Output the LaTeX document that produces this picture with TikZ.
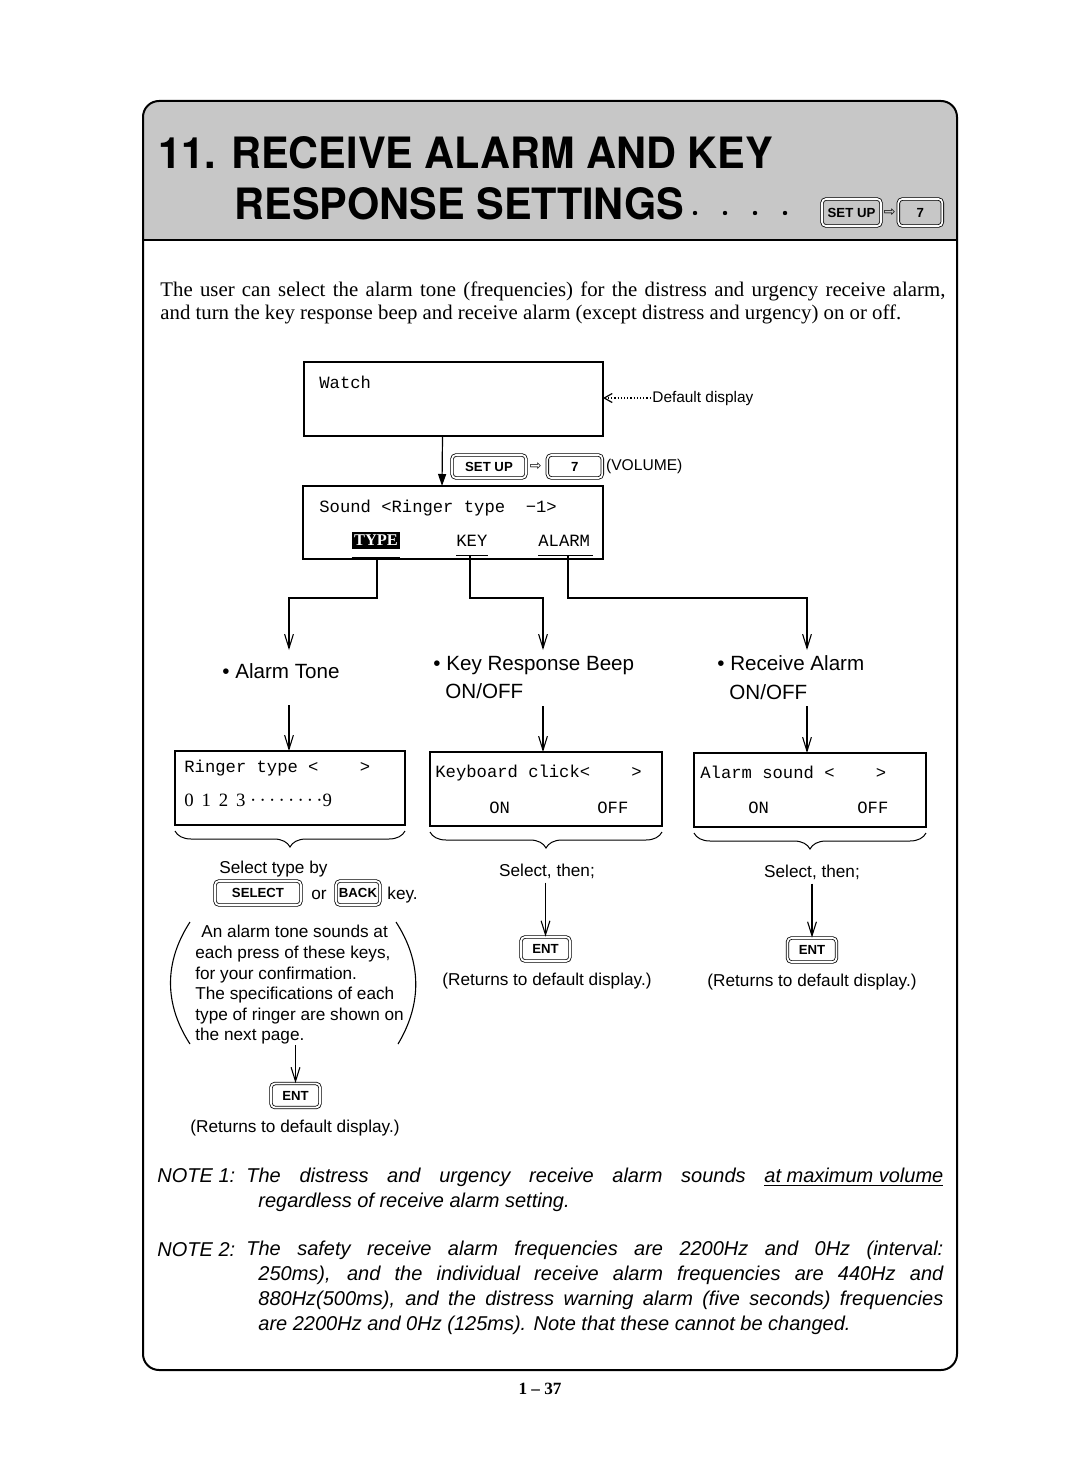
\documentclass[tikz,border=0pt]{standalone}
\usepackage{fontspec}
\usepackage{graphicx}
\setmainfont{Liberation Serif}
\setsansfont{Liberation Sans}
\setmonofont{Liberation Mono}
\newfontfamily\headfont{TeX Gyre Heros}
\newfontfamily\symfont{DejaVu Sans}
\usetikzlibrary{arrows.meta,decorations.pathreplacing,positioning}

\tikzset{
  screen/.style={draw, line width=0.7pt, inner sep=0pt, outer sep=0pt},
  keycap/.style={draw, double, double distance=0.9pt, line width=0.4pt,
    rounded corners=2pt, fill=white, inner sep=0pt,
    font=\sffamily\bfseries\fontsize{6.6}{7}\selectfont},
  mono/.style={font=\ttfamily\fontsize{8.6}{10}\selectfont, inner sep=0pt, anchor=base west},
  heading/.style={font=\sffamily\fontsize{10.3}{12}\selectfont, inner sep=0pt, anchor=base west},
  hint/.style={font=\sffamily\fontsize{8.6}{10.3}\selectfont, inner sep=2pt, anchor=base},
  notetext/.style={anchor=north west, inner sep=0pt, text width=342.5pt, align=justify,
    font=\sffamily\itshape\fontsize{10}{12.4}\selectfont},
  flow/.style={line width=0.55pt, -{Straight Barb[length=7pt,width=4.4pt,line width=0.55pt]}},
  wire/.style={line width=0.55pt},
  curly/.style={line width=0.5pt, decorate, decoration={brace, mirror, amplitude=8pt}},
}
\newcommand{\ringdots}{·\kern1.6pt·\kern1.6pt·\kern1.6pt·\kern1.6pt·\kern1.6pt·\kern1.6pt·\kern1.6pt·}

\begin{document}
\begin{tikzpicture}[x=0.5pt, y=-0.5pt]
\useasboundingbox (0,0) rectangle (1080,1461);

% frame and title band
\begin{scope}
  \clip (140,98) rectangle (960,240);
  \fill[black!22, rounded corners=8pt] (143,101) rectangle (957,280);
\end{scope}
\draw[line width=1pt, rounded corners=8pt] (143,101) rectangle (957,1370);
\draw[line width=1.3pt] (143,240) -- (957,240);

\node[anchor=base west, inner sep=0pt, font=\headfont\bfseries\fontsize{21.6}{24}\selectfont]
  (title1) at (158,169) {\scalebox{0.96}[1]{11. RECEIVE ALARM AND KEY}};
\node[anchor=base west, inner sep=0pt, font=\headfont\bfseries\fontsize{21.6}{24}\selectfont]
  (title2) at (234,219) {\scalebox{0.96}[1]{RESPONSE SETTINGS}};
\foreach \x in {695,725,755,785}
  \fill (\x,213) circle (2.2);
\node[keycap, fill=black!22, minimum width=29.5pt, minimum height=13.5pt] (hsetup) at (851.5,212.5) {SET UP};
\node[inner sep=0pt, font=\symfont\fontsize{7}{8}\selectfont, right=1pt of hsetup] (harrow) {⇨};
\node[keycap, fill=black!22, minimum width=22pt, minimum height=13.5pt, right=1pt of harrow] (hseven) {7};

% intro
\node[anchor=north west, inner sep=0pt, text width=392.5pt, align=justify,
  font=\rmfamily\fontsize{10.4}{11.5}\selectfont] (intro) at (160,281)
  {The user can select the alarm tone (frequencies) for the distress and urgency receive alarm,\linebreak
   and turn the key response beep and receive alarm (except distress and urgency) on or off.};

% default display
\node[screen, minimum width=149.5pt, minimum height=37pt] (watch) at (453.5,399) {};
\node[mono] (watchtxt) at (319,388) {Watch};
\node[anchor=base west, inner sep=0pt, font=\sffamily\fontsize{7.7}{9}\selectfont] (ddlabel) at (652,402) {Default display};
\draw[densely dotted, line width=0.6pt, {Straight Barb[length=4pt,width=4.5pt,line width=0.6pt]}-]
  (watch.east |- ddlabel.west) -- (ddlabel.west);

% key sequence
\node[keycap, minimum width=37pt, minimum height=11.5pt] (ksetup) at (489,466.5) {SET UP};
\node[inner sep=0pt, font=\symfont\fontsize{7}{8}\selectfont, right=1.5pt of ksetup] (karrow) {⇨};
\node[keycap, minimum width=27.5pt, minimum height=11.5pt, right=2.5pt of karrow] (kseven) {7};
\node[inner sep=0pt, font=\sffamily\fontsize{7.8}{9}\selectfont, right=1.5pt of kseven] (kvol) {(VOLUME)};

% sound screen
\node[screen, minimum width=150pt, minimum height=36.5pt] (sound) at (453,522.5) {};
\draw[line width=0.6pt, -{Triangle[length=6pt,width=4pt]}] ([xshift=-5.5pt]watch.south) -- ([xshift=-5.5pt]sound.north);
\node[mono] (soundtxt) at (319,512) {Sound <Ringer type\ \ −1>};
\node[fill=black, text=white, font=\rmfamily\bfseries\fontsize{8.2}{9}\selectfont, inner sep=0pt,
  minimum width=24pt, minimum height=8.5pt] (ttype) at (376,540.5) {TYPE};
\node[mono] (tkey) at (456,546) {KEY};
\node[mono] (talarm) at (538,546) {ALARM};
\draw[wire] ([yshift=-4pt]ttype.south west) -- ([yshift=-4pt]ttype.south east);
\draw[wire] ([yshift=-4.5pt]tkey.south west) -- ([yshift=-4.5pt]tkey.south east);
\draw[wire] ([yshift=-4.5pt]talarm.south west) -- ([yshift=-4.5pt,xshift=1.5pt]talarm.south east);
\coordinate (typeFoot) at (377,557);
\coordinate (keyFoot) at (470,555);
\coordinate (alarmFoot) at (568,555);

% three branches
\node[heading] (tone) at (222,678) {• Alarm Tone};
\node[heading] (beep) at (433,670) {• Key Response Beep};
\node[heading] (beep2) at (445,698) {ON/OFF};
\node[heading] (recv) at (717,670) {• Receive Alarm};
\node[heading] (recv2) at (729,699) {ON/OFF};
\coordinate (toneIn) at (289,650);
\coordinate (beepIn) at (543,650);
\coordinate (recvIn) at (807,650);
\coordinate (toneOut) at (289,705);
\coordinate (beepOut) at (543,706);
\coordinate (recvOut) at (807,706);
\draw[flow] (typeFoot) -- ++(0,41) -| (toneIn);
\draw[flow] (keyFoot) -- ++(0,43) -| (beepIn);
\draw[flow] (alarmFoot) -- ++(0,43) -| (recvIn);

\node[screen, minimum width=115pt, minimum height=37pt] (ringer) at (290,788) {};
\node[screen, minimum width=116pt, minimum height=37pt] (keyboard) at (546,789) {};
\node[screen, minimum width=116pt, minimum height=37pt] (alarmbox) at (810,790) {};
\draw[flow] (toneOut) -- (ringer.north -| toneOut);
\draw[flow] (beepOut) -- (keyboard.north -| beepOut);
\draw[flow] (recvOut) -- (alarmbox.north -| recvOut);

\node[mono] (ringtxt) at (184,772) {Ringer type <\phantom{xxxx}>};
\node[anchor=base west, inner sep=0pt, font=\rmfamily\fontsize{9.4}{10}\selectfont] (ringnums) at (184,806) {0\, 1\, 2\, 3 \ringdots9};
\node[mono] (kbtxt) at (435,777) {Keyboard click<\phantom{xxxx}>};
\node[mono] (kbon) at (489,813) {ON};
\node[mono] (kboff) at (597,813) {OFF};
\node[mono] (altxt) at (700,778) {Alarm sound <\phantom{xxxx}>};
\node[mono] (alon) at (748,813) {ON};
\node[mono] (aloff) at (857,813) {OFF};

\draw[curly] ([yshift=-3pt]ringer.south west) -- ([yshift=-3pt]ringer.south east);
\draw[curly] ([yshift=-3pt]keyboard.south west) -- ([yshift=-3pt]keyboard.south east);
\draw[curly] ([yshift=-3pt]alarmbox.south west) -- ([yshift=-3pt]alarmbox.south east);

% alarm tone column
\node[hint, anchor=base west, inner sep=0pt] (seltype) at (219,873) {Select type by};
\node[keycap, minimum width=43pt, minimum height=12pt] (kselect) at (258,893) {SELECT};
\node[hint, anchor=base west, inner sep=0pt] (ortxt) at (311,899) {or};
\node[keycap, minimum width=22pt, minimum height=12pt] (kback) at (358,893) {BACK};
\node[hint, anchor=base west, inner sep=0pt] (keytxt) at (387,899) {key.};
\node[anchor=north west, inner sep=0pt, align=left, font=\sffamily\fontsize{8.6}{10.3}\selectfont]
  (ringnote) at (195,925)
  {\hspace*{3pt}An alarm tone sounds at\\each press of these keys,\\for your confirmation.\\The specifications of each\\type of ringer are shown on\\the next page.};
\draw[wire] (190,922) .. controls (164,962) and (164,1004) .. (190,1044);
\draw[wire] (396,922) .. controls (422,962) and (422,1004) .. (398,1044);
\node[keycap, minimum width=24.5pt, minimum height=12pt] (ent1) at (295.5,1095.5) {ENT};
\draw[flow] (ringnote.south -| ent1) -- (ent1.north);
\node[hint] (ret1) at (295,1132) {(Returns to default display.)};

% key response column
\node[hint] (sel2) at (547,876) {Select, then;};
\node[keycap, minimum width=24.5pt, minimum height=12pt] (ent2) at (545.5,949) {ENT};
\draw[flow] (sel2.south -| ent2) -- (ent2.north);
\node[hint] (ret2) at (547,985) {(Returns to default display.)};

% receive alarm column
\node[hint] (sel3) at (812,877) {Select, then;};
\node[keycap, minimum width=24.5pt, minimum height=12pt] (ent3) at (812,950) {ENT};
\draw[flow] (sel3.south -| ent3) -- (ent3.north);
\node[hint] (ret3) at (812,986) {(Returns to default display.)};

% notes
\node[anchor=base west, inner sep=0pt, font=\sffamily\itshape\fontsize{10}{12.4}\selectfont] (tag1) at (157,1182) {NOTE 1:};
\node[notetext] (note1) at (258,1167.5)
  {\hspace*{-6pt}The distress and urgency receive alarm sounds \underline{at maximum volume}\linebreak
   regardless of receive alarm setting.};
\node[anchor=base west, inner sep=0pt, font=\sffamily\itshape\fontsize{10}{12.4}\selectfont] (tag2) at (157,1256) {NOTE 2:};
\node[notetext] (note2) at (258,1241)
  {\hspace*{-6pt}The safety receive alarm frequencies are 2200Hz and 0Hz (interval:\linebreak
   250ms), and the individual receive alarm frequencies are 440Hz and\linebreak
   880Hz(500ms), and the distress warning alarm (five seconds) frequencies\linebreak
   are 2200Hz and 0Hz (125ms). Note that these cannot be changed.};

\node[anchor=base, inner sep=0pt, font=\rmfamily\bfseries\fontsize{8.6}{10}\selectfont] (pageno) at (540,1394) {1 -- 37};
\end{tikzpicture}
\end{document}
